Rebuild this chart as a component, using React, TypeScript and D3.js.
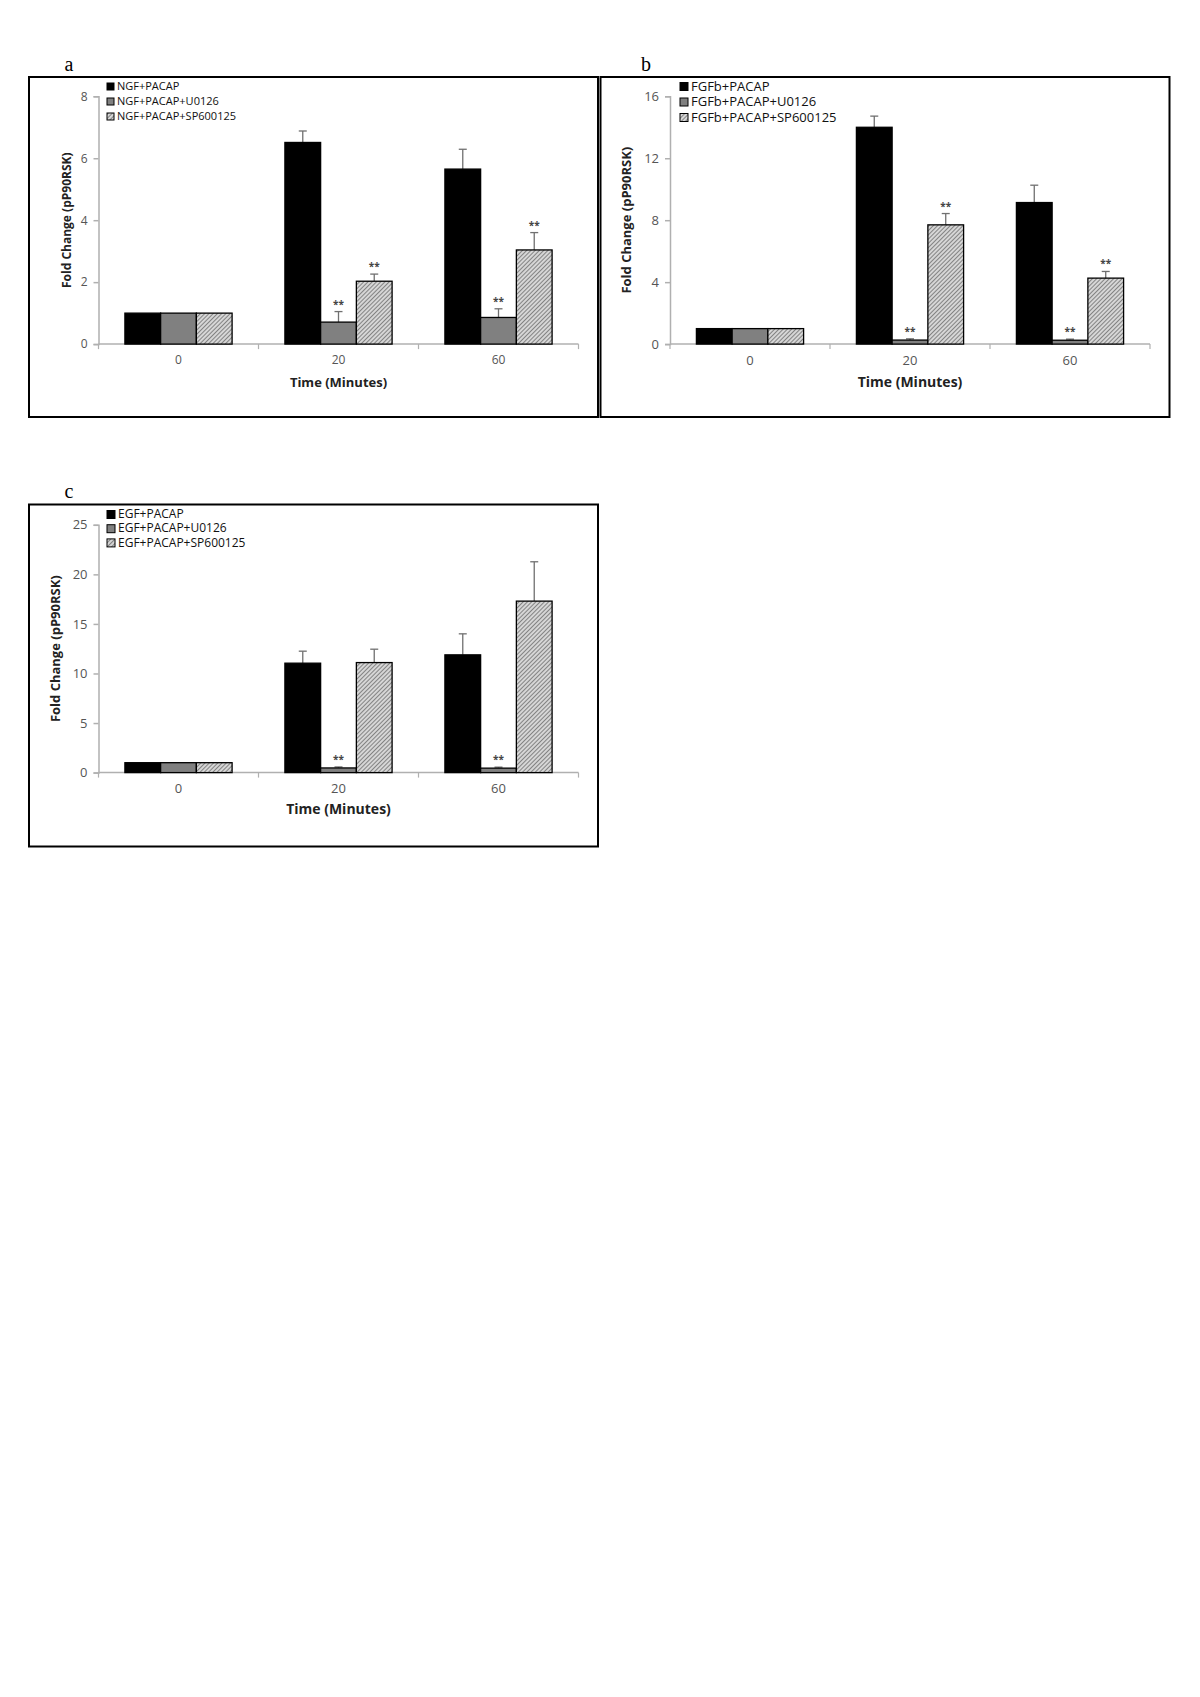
import React, { useRef, useEffect } from "react";
import * as d3 from "d3";

const times = ["0", "20", "60"];

const ngfSeries = ["NGF+PACAP", "NGF+PACAP+U0126", "NGF+PACAP+SP600125"];
const ngfValues = [[1, 6.51, 5.65], [1, 0.71, 0.86], [1, 2.03, 3.04]];
const ngfErrors = [[0, 0.37, 0.64], [0, 0.34, 0.28], [0, 0.23, 0.56]];
const ngfStars = [[false, false, false], [false, true, true], [false, true, true]];
const ngfTicks = [0, 2, 4, 6, 8];

const fgfSeries = ["FGFb+PACAP", "FGFb+PACAP+U0126", "FGFb+PACAP+SP600125"];
const fgfValues = [[1, 14.0, 9.14], [1, 0.26, 0.25], [1, 7.7, 4.26]];
const fgfErrors = [[0, 0.72, 1.12], [0, 0.08, 0.07], [0, 0.73, 0.43]];
const fgfStars = [[false, false, false], [false, true, true], [false, true, true]];
const fgfTicks = [0, 4, 8, 12, 16];

const egfSeries = ["EGF+PACAP", "EGF+PACAP+U0126", "EGF+PACAP+SP600125"];
const egfValues = [[1, 11.04, 11.88], [1, 0.47, 0.45], [1, 11.1, 17.3]];
const egfErrors = [[0, 1.21, 2.12], [0, 0.1, 0.1], [0, 1.35, 3.97]];
const egfStars = [[false, false, false], [false, true, true], [false, false, false]];
const egfTicks = [0, 5, 10, 15, 20, 25];

const yTitle = "Fold Change (pP90RSK)";
const xTitle = "Time (Minutes)";

const sans = "'Open Sans', 'Liberation Sans', sans-serif";

function drawPanel(svg, p) {
    const g = svg.append("g");

    g.append("rect")
        .attr("x", p.box[0]).attr("y", p.box[1])
        .attr("width", p.box[2]).attr("height", p.box[3])
        .attr("fill", "none").attr("stroke", "#000").attr("stroke-width", 2);

    g.append("text")
        .attr("x", p.letter[0]).attr("y", p.letter[1])
        .attr("font-family", "'Liberation Serif', serif")
        .attr("font-size", 20)
        .attr("text-anchor", "middle")
        .text(p.name);

    const x = d3.scaleBand().domain(times).range([p.left, p.right]).paddingInner(0.33).paddingOuter(0.165);
    const xs = d3.scaleBand().domain(d3.range(3).map(String)).range([0, x.bandwidth()]);
    const y = d3.scaleLinear().domain([0, p.ticks[p.ticks.length - 1]]).range([p.bottom, p.top]);

    // y axis
    const yAxis = g.append("g").attr("transform", `translate(${p.left},0)`)
        .call(d3.axisLeft(y).tickValues(p.ticks).tickSize(5).tickPadding(6));
    yAxis.select(".domain").attr("stroke", "#b0b0b0").attr("stroke-width", 1.5);
    yAxis.selectAll(".tick line").attr("stroke", "#b0b0b0").attr("stroke-width", 1.5);
    yAxis.selectAll("text").attr("fill", "#555").attr("font-family", sans).attr("font-size", p.tickSize);

    // x axis
    const xAxisLine = g.append("g");
    xAxisLine.append("line")
        .attr("x1", p.left).attr("x2", p.right).attr("y1", p.bottom).attr("y2", p.bottom)
        .attr("stroke", "#b0b0b0").attr("stroke-width", 1.5);
    const step = (p.right - p.left) / times.length;
    d3.range(times.length + 1).forEach(i => {
        xAxisLine.append("line")
            .attr("x1", p.left + i * step).attr("x2", p.left + i * step)
            .attr("y1", p.bottom).attr("y2", p.bottom + 5)
            .attr("stroke", "#b0b0b0").attr("stroke-width", 1.2);
    });
    times.forEach(t => {
        g.append("text")
            .attr("x", x(t) + x.bandwidth() / 2).attr("y", p.bottom + 16)
            .attr("dy", "0.35em").attr("text-anchor", "middle")
            .attr("font-family", sans).attr("font-size", p.tickSize).attr("fill", "#555")
            .text(t);
    });

    // bars
    p.values.forEach((vals, s) => {
        vals.forEach((v, i) => {
            const bx = x(times[i]) + xs(String(s));
            const bw = xs.bandwidth();
            const err = p.errors[s][i];
            if (err > 0) {
                const cx = bx + bw / 2;
                g.append("line").attr("x1", cx).attr("x2", cx)
                    .attr("y1", y(v)).attr("y2", y(v + err))
                    .attr("stroke", "#707070").attr("stroke-width", 1.3);
                g.append("line").attr("x1", cx - 4).attr("x2", cx + 4)
                    .attr("y1", y(v + err)).attr("y2", y(v + err))
                    .attr("stroke", "#707070").attr("stroke-width", 1.3);
            }
            g.append("rect")
                .attr("x", bx).attr("y", y(v))
                .attr("width", bw).attr("height", p.bottom - y(v))
                .attr("fill", s === 0 ? "#000" : s === 1 ? "#808080" : `url(#hatch)`)
                .attr("stroke", "#000").attr("stroke-width", 1.3);
            if (p.stars[s][i]) {
                g.append("text")
                    .attr("x", bx + bw / 2).attr("y", y(v + err) - 4)
                    .attr("text-anchor", "middle")
                    .attr("font-family", sans).attr("font-size", 10).attr("font-weight", "bold")
                    .attr("fill", "#444")
                    .text("**");
            }
        });
    });

    // legend
    p.series.forEach((name, s) => {
        const ly = p.legend[1] + s * p.legend[2];
        g.append("rect")
            .attr("x", p.legend[0]).attr("y", ly - p.legSize / 2 + 0.5)
            .attr("width", p.legSize).attr("height", p.legSize)
            .attr("fill", s === 0 ? "#000" : s === 1 ? "#808080" : `url(#hatch)`)
            .attr("stroke", "#000").attr("stroke-width", 1);
        g.append("text")
            .attr("x", p.legend[0] + p.legSize + 3).attr("y", ly)
            .attr("dy", "0.35em")
            .attr("font-family", sans).attr("font-size", p.legFont).attr("fill", "#111")
            .text(name);
    });

    // titles
    g.append("text")
        .attr("transform", `translate(${p.yTitleX},${(p.top + p.bottom) / 2}) rotate(-90)`)
        .attr("text-anchor", "middle").attr("dy", "0.35em")
        .attr("font-family", sans).attr("font-weight", "bold").attr("font-size", p.titleSize)
        .attr("fill", "#222")
        .text(yTitle);
    g.append("text")
        .attr("x", (p.left + p.right) / 2).attr("y", p.xTitleY)
        .attr("text-anchor", "middle").attr("dy", "0.35em")
        .attr("font-family", sans).attr("font-weight", "bold").attr("font-size", p.titleSize + 1)
        .attr("fill", "#222")
        .text(xTitle);
}

function App() {
    const svgRef = useRef(null);

    useEffect(() => {
        const svg = d3.select(svgRef.current);
        svg.selectAll("*").remove();

        const defs = svg.append("defs");
        const pat = defs.append("pattern")
            .attr("id", "hatch").attr("patternUnits", "userSpaceOnUse")
            .attr("width", 3).attr("height", 3)
            .attr("patternTransform", "rotate(45)");
        pat.append("rect").attr("width", 3).attr("height", 3).attr("fill", "#d6d6d6");
        pat.append("line").attr("x1", 0).attr("y1", 0).attr("x2", 0).attr("y2", 3)
            .attr("stroke", "#555").attr("stroke-width", 1.3);

        svg.append("rect").attr("width", 1200).attr("height", 1697).attr("fill", "#fff");

        drawPanel(svg, {
            name: "a", box: [29, 77, 569, 340], letter: [69, 71],
            left: 98.5, right: 578.5, top: 96.3, bottom: 344.1,
            series: ngfSeries, values: ngfValues, errors: ngfErrors, stars: ngfStars, ticks: ngfTicks,
            legend: [107, 86, 15], legSize: 7, legFont: 11,
            tickSize: 12, titleSize: 12, yTitleX: 67, xTitleY: 382,
        });
        drawPanel(svg, {
            name: "b", box: [600.5, 77, 569, 340], letter: [646, 71],
            left: 670, right: 1150, top: 96.3, bottom: 344.1,
            series: fgfSeries, values: fgfValues, errors: fgfErrors, stars: fgfStars, ticks: fgfTicks,
            legend: [680, 86, 15.5], legSize: 8, legFont: 13,
            tickSize: 13, titleSize: 13, yTitleX: 626, xTitleY: 382,
        });
        drawPanel(svg, {
            name: "c", box: [29, 504.5, 569, 342], letter: [69, 498],
            left: 98.5, right: 578.5, top: 524.8, bottom: 772.6,
            series: egfSeries, values: egfValues, errors: egfErrors, stars: egfStars, ticks: egfTicks,
            legend: [107, 514, 14.2], legSize: 8, legFont: 12,
            tickSize: 13, titleSize: 13, yTitleX: 55, xTitleY: 809,
        });
    }, []);

    return (
        <svg ref={svgRef} width={1200} height={1697}
            style={{ position: "absolute", left: 0, top: 0, display: "block" }}></svg>
    );
}

export default App;
